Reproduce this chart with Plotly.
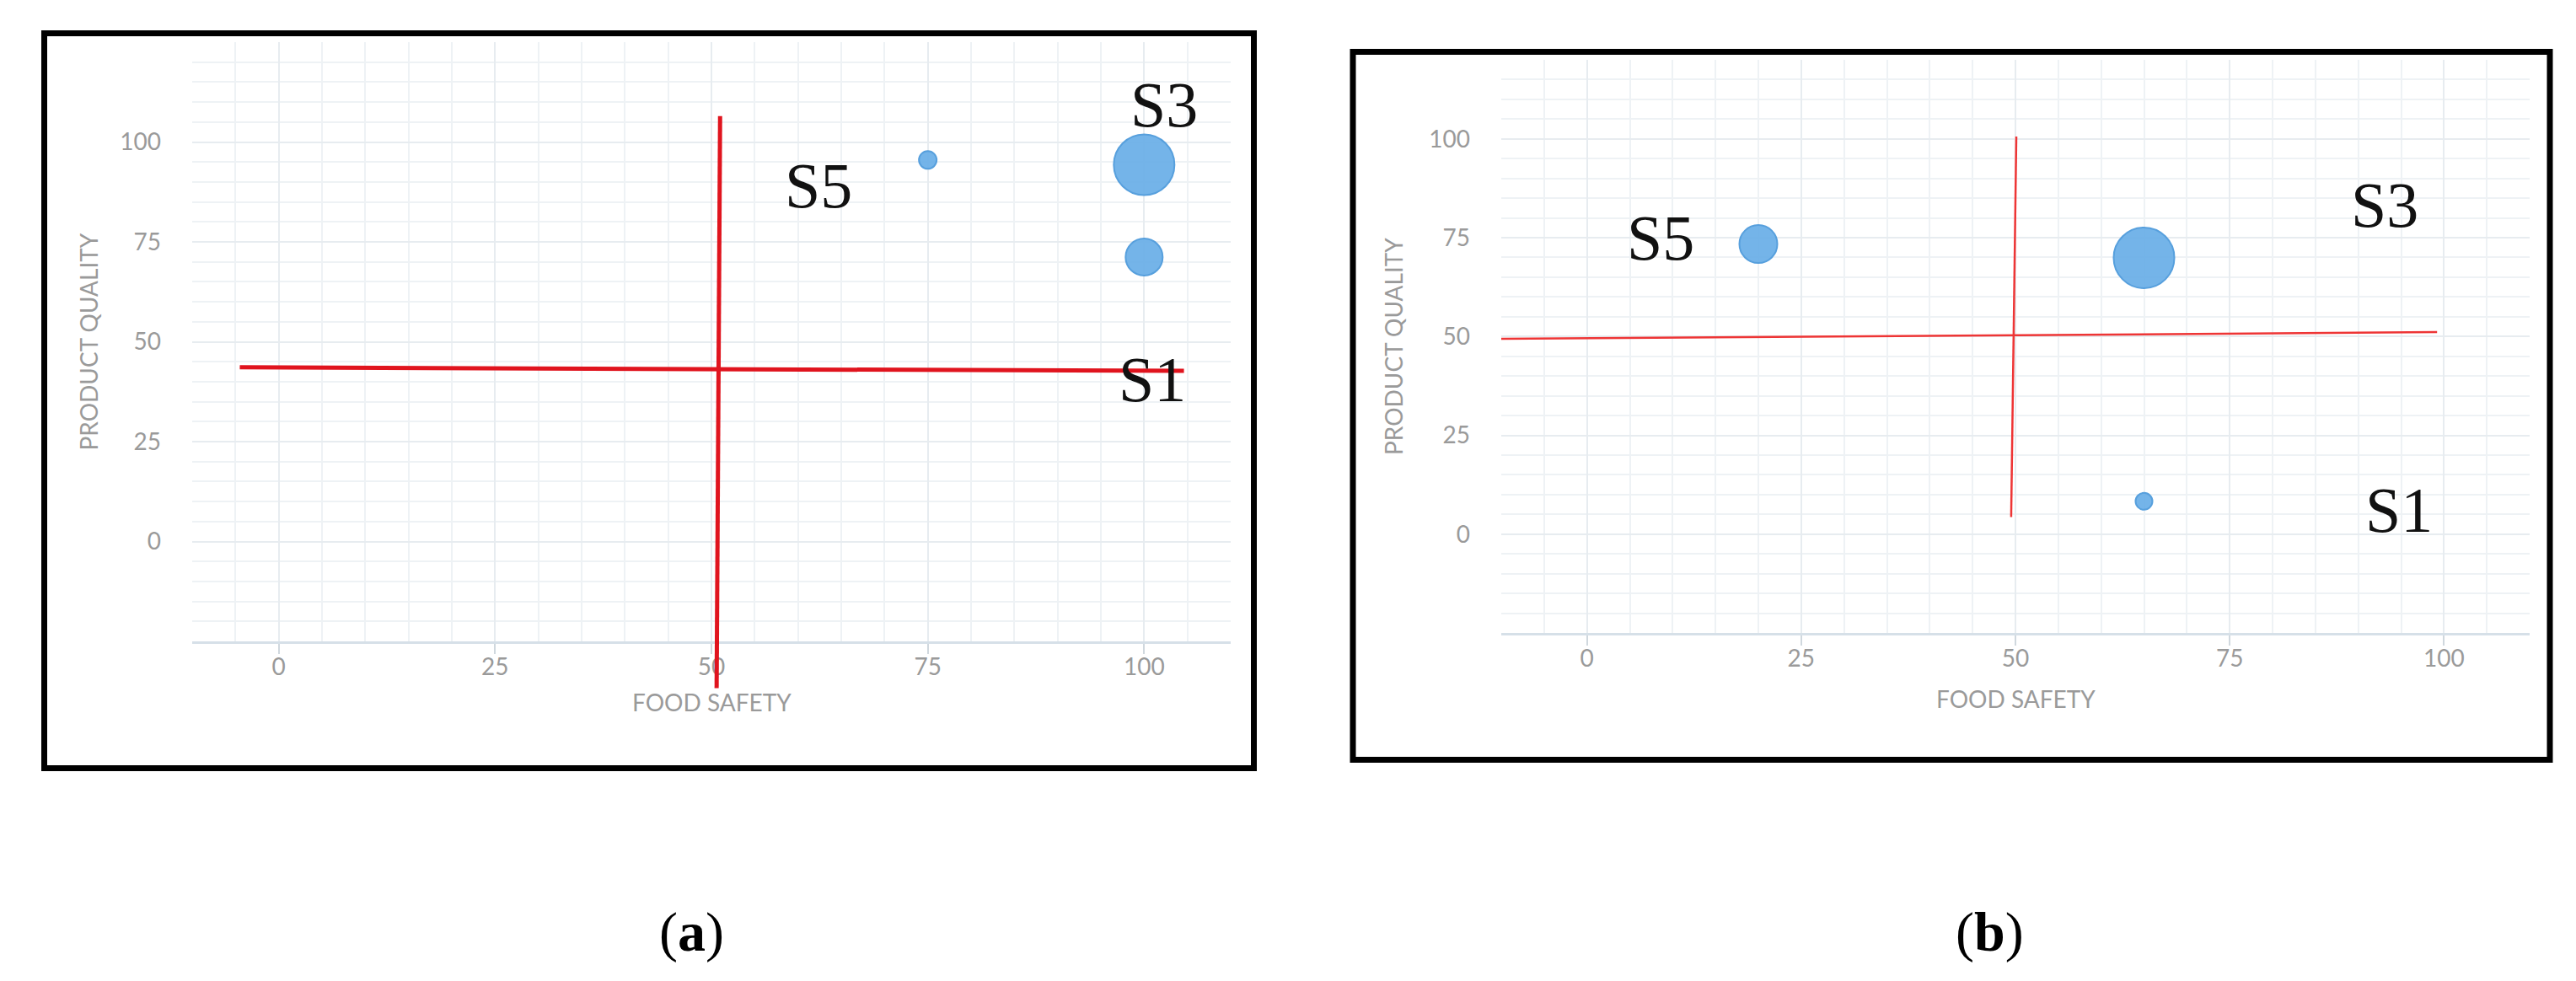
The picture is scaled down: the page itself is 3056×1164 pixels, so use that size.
import plotly.graph_objects as go

W, H = 3056, 1164

# x/y tick values shared by both panels
x_ticks = [0, 25, 50, 75, 100]
y_ticks = [0, 25, 50, 75, 100]

# panel (a)
a_x_range = [-10, 110]
a_y_range = [-25, 125]
a_bubble_x = [75, 100, 100]
a_bubble_y = [95.5, 94.3, 71.2]
a_bubble_size = [21, 72, 44]
a_hline_x = [-4.5, 104.6]
a_hline_y = [43.6, 42.7]
a_vline_x = [51.0, 50.6]
a_vline_y = [106.5, -36.7]
a_labels = ["S5", "S3", "S1"]
a_label_x = [62.4, 102.3, 100.9]
a_label_y = [89.1, 109.4, 40.6]

# panel (b)
b_x_range = [-10, 110]
b_y_range = [-25, 120]
b_bubble_x = [20, 65, 65]
b_bubble_y = [73.4, 69.9, 8.3]
b_bubble_size = [45, 72, 20]
b_hline_x = [-10, 99.2]
b_hline_y = [49.4, 51.1]
b_vline_x = [50.1, 49.5]
b_vline_y = [100.6, 4.3]
b_labels = ["S5", "S3", "S1"]
b_label_x = [8.6, 93.1, 94.8]
b_label_y = [75.1, 83.4, 6.2]

X_TITLE = "FOOD SAFETY"
Y_TITLE = "PRODUCT QUALITY"

GREY = "#9a9a9a"
BUBBLE = "#6db0e8"
BUBBLE_EDGE = "#4f9bdc"


def px_x(px):
    return px / W


def px_y(py):
    return 1 - py / H


def widen(rng, dom, new_dom):
    # range of an invisible axis over new_dom that keeps the same scale as rng on dom
    k = (rng[1] - rng[0]) / (dom[1] - dom[0])
    return [rng[0] - (dom[0] - new_dom[0]) * k, rng[1] + (new_dom[1] - dom[1]) * k]


panels = [
    dict(
        n="", over="3",
        xdom=[px_x(220), px_x(1452)], ydom=[px_y(753), px_y(42)],
        odx=[0.0, 0.5], ody=[0.0, 1.0],
        xr=a_x_range, yr=a_y_range,
        bx=a_bubble_x, by=a_bubble_y, bs=a_bubble_size,
        lines=[(a_hline_x, a_hline_y), (a_vline_x, a_vline_y)],
        red="#e0141e", lw=5,
        labels=a_labels, lx=a_label_x, ly=a_label_y,
        frame=(44.5, 31.5, 1479.5, 903.5),
        ytitle_shift=-124, xtitle_shift=-72, tag="(<b>a</b>)", tag_x=812,
    ),
    dict(
        n="2", over="4",
        xdom=[px_x(1773), px_x(2993)], ydom=[px_y(743), px_y(63)],
        odx=[0.5, 1.0], ody=[0.0, 1.0],
        xr=b_x_range, yr=b_y_range,
        bx=b_bubble_x, by=b_bubble_y, bs=b_bubble_size,
        lines=[(b_hline_x, b_hline_y), (b_vline_x, b_vline_y)],
        red="#ee3535", lw=2.5,
        labels=b_labels, lx=b_label_x, ly=b_label_y,
        frame=(1597, 53.5, 3017, 893.5),
        ytitle_shift=-128, xtitle_shift=-78, tag="(<b>b</b>)", tag_x=2352,
    ),
]

fig = go.Figure()
layout = dict(
    width=W, height=H,
    margin=dict(l=0, r=0, t=0, b=0),
    paper_bgcolor="white",
    plot_bgcolor="rgba(0,0,0,0)",
    showlegend=False,
    shapes=[],
    annotations=[],
)

axis_font = dict(family="Lato, 'Open Sans', sans-serif", size=28, color=GREY)
label_font = dict(family="'Liberation Serif', 'Times New Roman', serif", size=76, color="#111111")

for p in panels:
    xa, ya = "x" + p["n"], "y" + p["n"]
    ox, oy = "x" + p["over"], "y" + p["over"]

    layout["xaxis" + p["n"]] = dict(
        domain=p["xdom"], range=p["xr"], anchor=ya,
        tickvals=x_ticks, ticks="outside", ticklen=12, tickwidth=1.5, tickcolor="#d0d8de",
        ticklabelstandoff=-9, tickfont=axis_font,
        showgrid=True, gridcolor="#e7ecf0", gridwidth=1.5,
        minor=dict(dtick=5, tick0=0, showgrid=True, gridcolor="#eef2f5", gridwidth=1.5),
        showline=True, linecolor="#d6e0e8", linewidth=3,
        zeroline=False, fixedrange=True,
    )
    layout["yaxis" + p["n"]] = dict(
        domain=p["ydom"], range=p["yr"], anchor=xa,
        tickvals=y_ticks, ticks="", ticklabelstandoff=36,
        tickfont=axis_font,
        showgrid=True, gridcolor="#e7ecf0", gridwidth=1.5,
        minor=dict(dtick=5, tick0=0, showgrid=True, gridcolor="#eef2f5", gridwidth=1.5),
        showline=False, zeroline=False, fixedrange=True,
    )
    # invisible wider axes so the red lines are not cut at the plot edge
    layout["xaxis" + p["over"]] = dict(
        domain=p["odx"], range=widen(p["xr"], p["xdom"], p["odx"]), anchor=oy,
        visible=False, fixedrange=True,
    )
    layout["yaxis" + p["over"]] = dict(
        domain=p["ody"], range=widen(p["yr"], p["ydom"], p["ody"]), anchor=ox,
        visible=False, fixedrange=True,
    )

    fig.add_trace(go.Scatter(
        x=p["bx"], y=p["by"], xaxis=xa, yaxis=ya, mode="markers",
        marker=dict(size=p["bs"], sizemode="diameter", color=BUBBLE,
                    opacity=0.95, line=dict(color=BUBBLE_EDGE, width=2)),
        hoverinfo="x+y",
    ))
    for lx, ly in p["lines"]:
        fig.add_trace(go.Scatter(
            x=lx, y=ly, xaxis=ox, yaxis=oy, mode="lines",
            line=dict(color=p["red"], width=p["lw"]), hoverinfo="skip",
        ))

    for text, tx, ty in zip(p["labels"], p["lx"], p["ly"]):
        layout["annotations"].append(dict(
            text=text, x=tx, y=ty, xref=xa, yref=ya, showarrow=False,
            font=label_font, xanchor="center", yanchor="middle",
        ))

    layout["annotations"].append(dict(
        text=X_TITLE, xref=xa + " domain", yref=ya + " domain", x=0.5, y=0,
        yshift=p["xtitle_shift"], showarrow=False, font=axis_font,
        xanchor="center", yanchor="middle",
    ))
    layout["annotations"].append(dict(
        text=Y_TITLE, xref=xa + " domain", yref=ya + " domain", x=0, y=0.5,
        xshift=p["ytitle_shift"], textangle=-90, showarrow=False, font=axis_font,
        xanchor="center", yanchor="middle",
    ))
    layout["annotations"].append(dict(
        text=p["tag"], xref="paper", yref="paper", x=px_x(p["tag_x"]), y=px_y(1098),
        showarrow=False, xanchor="center", yanchor="middle",
        font=dict(family="'Liberation Serif', 'Times New Roman', serif", size=66, color="black"),
    ))

    x0, y0, x1, y1 = p["frame"]
    layout["shapes"].append(dict(
        type="rect", xref="paper", yref="paper",
        x0=px_x(x0), x1=px_x(x1), y0=px_y(y1), y1=px_y(y0),
        line=dict(color="black", width=7), fillcolor="rgba(0,0,0,0)",
    ))

fig.update_layout(**layout)
fig.write_html("out.html")
